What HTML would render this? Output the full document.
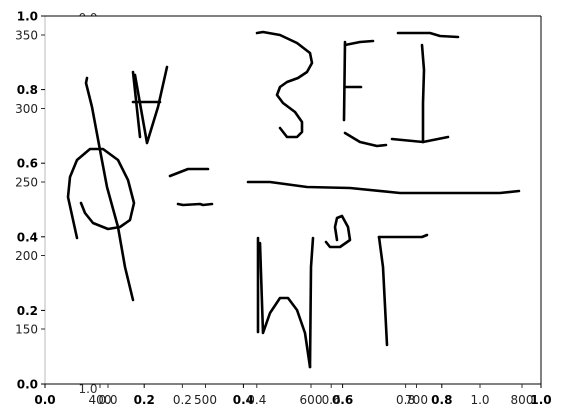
<!DOCTYPE html>
<html><head><meta charset="utf-8"><style>
html,body{margin:0;padding:0;background:#fff;}
svg{display:block;font-family:"DejaVu Sans","Liberation Sans",sans-serif;}
</style></head><body>
<svg id="chart" width="563" height="418" viewBox="0 0 563 418" xmlns="http://www.w3.org/2000/svg"></svg>
<script>
// Tick label arrays
const mainTicks = [0.0, 0.2, 0.4, 0.6, 0.8, 1.0];
const secTicks = [0.0, 0.2, 0.4, 0.6, 0.8, 1.0];
const imgXTicks = [400, 500, 600, 700, 800];
const imgYTicks = [150, 200, 250, 300, 350];
// handwriting strokes (image pixel coordinates)
const strokePhiLine = [[87,78],[86,83],[92,107],[100,150],[107,187],[118,227],[125,267],[133,300]];
const strokePhiLoop = [[77,238],[68,197],[70,177],[77,160],[90,149],[103,149],[118,160],[128,180],[134,203],[130,220],[120,227],[108,229],[93,223],[85,213],[81,203]];
const strokePsiA = [[133,72],[140,137]];
const strokePsiB = [[135,75],[147,143],[158,107],[167,67]];
const strokePsiBar = [[133,102],[160,102]];
const strokeEqTop = [[170,176],[188,169],[208,169]];
const strokeEqBot = [[178,204],[183,205],[200,204],[203,205],[212,204]];
const stroke3 = [[257,33],[263,32],[280,35],[297,43],[310,53],[312,63],[307,72],[298,78],[287,82],[280,87],[277,95],[283,103],[295,112],[302,122],[302,132],[297,137],[287,137],[280,128]];
const strokeEV = [[345,42],[344,120]];
const strokeET = [[345,45],[360,42],[373,41]];
const strokeEM = [[345,87],[361,87]];
const strokeEB = [[345,133],[360,142],[377,146],[386,145]];
const strokeIT = [[398,33],[430,33],[440,36],[458,37]];
const strokeIV = [[422,45],[424,70],[423,103],[423,142]];
const strokeIB = [[392,139],[423,142],[448,137]];
const strokeLong = [[248,182],[270,182],[307,187],[350,188],[400,193],[500,193],[519,191]];
const strokeHL = [[258,238],[258,332]];
const strokeH = [[260,243],[263,333],[270,313],[280,298],[288,298],[297,310],[305,333],[310,367]];
const strokeHR = [[310,367],[311,267],[313,238]];
const strokeO = [[326,242],[330,247],[340,247],[350,240],[348,227],[342,216],[337,218],[335,227],[337,240]];
const strokeGV = [[387,345],[383,267],[379,237]];
const strokeGT = [[379,237],[422,237],[427,235]];
const strokes = [strokePhiLine,strokePhiLoop,strokePsiA,strokePsiB,strokePsiBar,strokeEqTop,strokeEqBot,stroke3,strokeEV,strokeET,strokeEM,strokeEB,strokeIT,strokeIV,strokeIB,strokeLong,strokeHL,strokeH,strokeHR,strokeO,strokeGV,strokeGT];

const NS="http://www.w3.org/2000/svg";
const svg=document.getElementById('chart');
function mk(t,a,txt){const e=document.createElementNS(NS,t);for(const k in a)e.setAttribute(k,a[k]);if(txt!==undefined)e.textContent=txt;svg.appendChild(e);return e;}
const L=45,R=541,T=16,B=384;
const mx=v=>L+v*(R-L), my=v=>B-v*(B-T);
const sx=v=>108+v*(480-108);
const ix=v=>100+(v-400)*1.055, iy=v=>329-(v-150)*1.47;

// clipped secondary labels
let t=mk('text',{x:88,y:22,'font-size':12,'text-anchor':'middle',fill:'#333'},'0.0');

t=mk('text',{x:88,y:393,'font-size':12,'text-anchor':'middle',fill:'#333'},'1.0');


let bg=mk('rect',{x:L,y:T,width:R-L,height:B-T,fill:'#fff'});


// strokes
strokes.forEach((s,i)=>{
  const p=mk('polyline',{points:s.map(q=>q[0]+','+q[1]).join(' '),fill:'none',stroke:'#000','stroke-width':2.6,'stroke-linejoin':'round','stroke-linecap':'round'});
  
  
});

// spines
let s1=mk('line',{x1:L,y1:T,x2:L,y2:B,stroke:'#bbb','stroke-width':1});

let s2=mk('line',{x1:L,y1:T,x2:R,y2:T,stroke:'#000','stroke-width':1});

let s3=mk('line',{x1:R,y1:T,x2:R,y2:B,stroke:'#000','stroke-width':1});

let s4=mk('line',{x1:L,y1:B,x2:R,y2:B,stroke:'#000','stroke-width':1});


// main axes ticks (bold)
mainTicks.forEach(v=>{
  let e=mk('line',{x1:mx(v),y1:B,x2:mx(v),y2:B+4,stroke:'#000'});
  
  e=mk('text',{x:mx(v),y:B+20,'font-size':12,'font-weight':'bold','text-anchor':'middle'},v.toFixed(1));
  
  e=mk('line',{x1:L-4,y1:my(v),x2:L,y2:my(v),stroke:'#000'});
  
  e=mk('text',{x:L-7,y:my(v)+4.5,'font-size':12,'font-weight':'bold','text-anchor':'end'},v.toFixed(1));
  
});
// secondary x axis
secTicks.forEach(v=>{
  let e=mk('line',{x1:sx(v),y1:B,x2:sx(v),y2:B+4,stroke:'#333'});
  
  e=mk('text',{x:sx(v),y:B+20,'font-size':12,'text-anchor':'middle',fill:'#222'},v.toFixed(1));
  
});
// image axes
imgXTicks.forEach(v=>{
  let e=mk('line',{x1:ix(v),y1:B,x2:ix(v),y2:B+4,stroke:'#333'});
  
  e=mk('text',{x:ix(v),y:B+20,'font-size':12,'text-anchor':'middle',fill:'#222'},String(v));
  
});
imgYTicks.forEach(v=>{
  let e=mk('line',{x1:L-4,y1:iy(v),x2:L,y2:iy(v),stroke:'#333'});
  
  e=mk('text',{x:L-7,y:iy(v)+4.5,'font-size':12,'text-anchor':'end',fill:'#222'},String(v));
  
});
</script>
</body></html>
